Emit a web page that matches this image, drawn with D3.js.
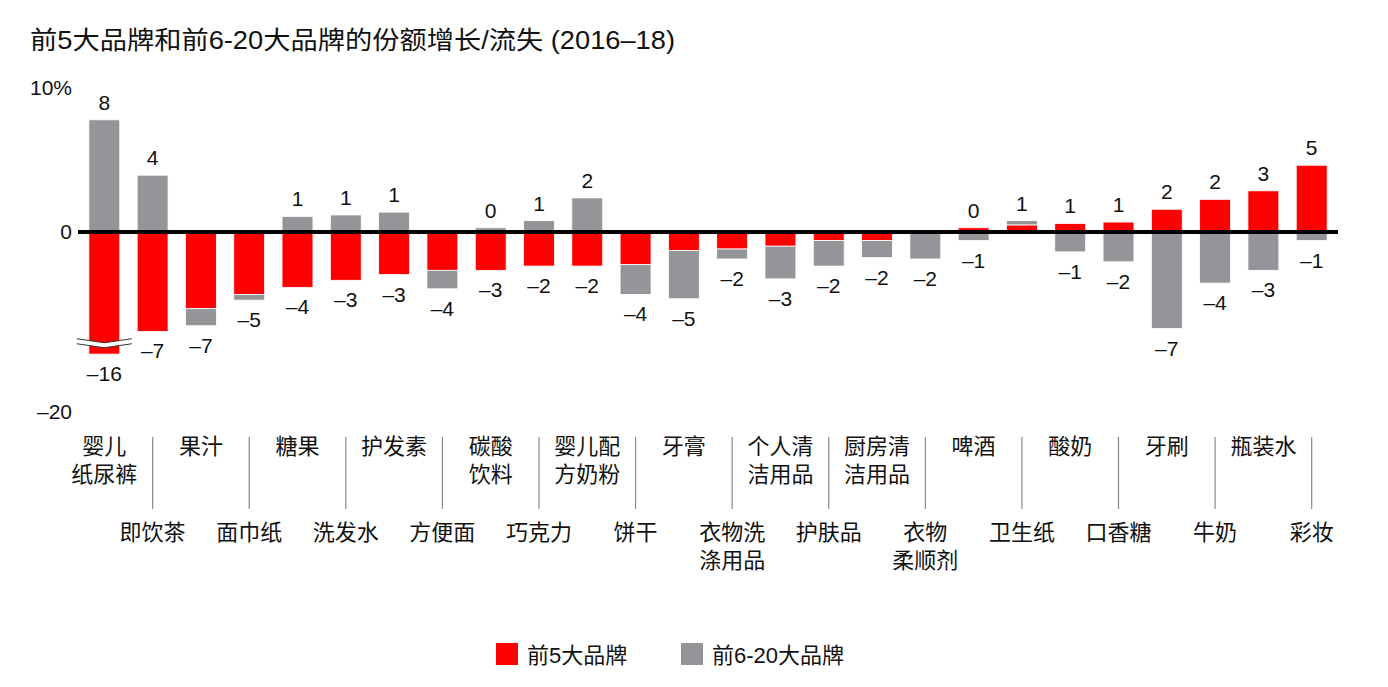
<!DOCTYPE html>
<html lang="zh">
<head>
  <meta charset="UTF-8">
  <title>前5大品牌和前6-20大品牌的份额增长/流失</title>
  <script src="https://d3js.org/d3.v7.min.js"></script>
  <style>
    body {
      margin: 0;
      background: #fff;
      font-family: "Liberation Sans", Arial, "Noto Sans CJK SC", sans-serif;
    }
    svg {
      display: block;
    }
    .cat-label {
      font-size: 22px;
      fill: #111;
    }
    .val-label {
      font-size: 21px;
      fill: #111;
    }
  </style>
</head>
<body>

<div id="chart"></div>

<script>
  // categories, in chart order ("\n" = line break in the label)
  const categories = [
    "婴儿\n纸尿裤", "即饮茶", "果汁", "面巾纸", "糖果", "洗发水", "护发素", "方便面",
    "碳酸\n饮料", "巧克力", "婴儿配\n方奶粉", "饼干", "牙膏", "衣物洗\n涤用品",
    "个人清\n洁用品", "护肤品", "厨房清\n洁用品", "衣物\n柔顺剂", "啤酒", "卫生纸",
    "酸奶", "口香糖", "牙刷", "牛奶", "瓶装水", "彩妆"
  ];

  // share gain / loss, percentage points (2016-18)
  const top5Values = [
    -16, -7.0, -5.4, -4.4, -3.9, -3.4, -3.0, -2.7, -2.7, -2.4, -2.4, -2.3, -1.3,
    -1.2, -1.0, -0.6, -0.6, 0, 0.3, 0.5, 0.6, 0.7, 1.6, 2.3, 2.9, 4.7
  ];
  const top6to20Values = [
    7.9, 4.0, -1.2, -0.4, 1.1, 1.2, 1.4, -1.3, 0.3, 0.8, 2.4, -2.1, -3.4,
    -0.7, -2.3, -1.8, -1.2, -1.9, -0.6, 0.3, -1.4, -2.1, -6.8, -3.6, -2.7, -0.6
  ];

  const seriesNames = ["前5大品牌", "前6-20大品牌"];
  const yTickValues = [10, 0, -20];
  const yTickLabels = ["10%", "0", "\u201320"];

  const colors = {top5: "#ff0000", mid: "#939598"};

  const width = 1388, height = 687;

  const svg = d3.select("#chart")
                .append("svg")
                .attr("width", width)
                .attr("height", height);

  // title
  svg.append("text")
     .attr("x", 30)
     .attr("y", 49)
     .attr("font-size", 25)
     .attr("fill", "#111")
     .attr("textLength", 645)
     .attr("lengthAdjust", "spacingAndGlyphs")
     .text("前5大品牌和前6-20大品牌的份额增长/流失 (2016\u201318)");

  const rows = categories.map((c, i) => ({cat: c, i: i, top5: top5Values[i], mid: top6to20Values[i]}));

  // x: one band per category
  const x = d3.scaleBand()
              .domain(d3.range(categories.length))
              .range([78, 1338])
              .paddingInner(0.36)
              .paddingOuter(0.225);

  // y: broken axis, -8.4 .. -16 squeezed together
  const k = 14.2, y0 = 232;
  const y = d3.scaleLinear()
              .domain([-20, -16, -8.4, 10])
              .range([y0 + 12.65 * k, y0 + 8.6 * k, y0 + 8.4 * k, y0 - 10 * k]);

  // stack: red next to the zero line, grey beyond it
  const stack = d3.stack()
                  .keys(["top5", "mid"])
                  .offset(d3.stackOffsetDiverging);
  const series = stack(rows);

  svg.append("g")
     .selectAll("g")
     .data(series)
     .join("g")
     .attr("fill", d => colors[d.key])
     .selectAll("rect")
     .data(d => d.filter(p => p[1] !== p[0]))
     .join("rect")
     .attr("x", d => x(d.data.i))
     .attr("width", x.bandwidth())
     .attr("y", d => y(Math.max(d[0], d[1])))
     .attr("height", d => Math.abs(y(d[0]) - y(d[1])))
     .attr("stroke", "#fff")
     .attr("stroke-width", 0.8);

  // axis break on the first bar
  const bx0 = x(0) - 12, bx1 = x(0) + x.bandwidth() + 12, bxm = x(0) + x.bandwidth() / 2;
  const by = y(-7.8);
  const zig = (off) => [[bx0, by - 4 + off], [bxm, by + off], [bx1, by - 4 + off]];
  svg.append("path")
     .attr("d", d3.line()(zig(0).concat(zig(5).reverse())) + "Z")
     .attr("fill", "#fff");
  [0, 5].forEach(off => {
    svg.append("path")
       .attr("d", d3.line()(zig(off)))
       .attr("fill", "none")
       .attr("stroke", "#333")
       .attr("stroke-width", 1);
  });

  // zero line
  svg.append("line")
     .attr("x1", 78).attr("x2", 1338)
     .attr("y1", y(0)).attr("y2", y(0))
     .attr("stroke", "#000")
     .attr("stroke-width", 4);

  // y tick labels
  const yAxis = d3.axisLeft(y)
                  .tickValues(yTickValues)
                  .tickFormat((d, i) => yTickLabels[i])
                  .tickSize(0)
                  .tickPadding(4);
  svg.append("g")
     .attr("transform", "translate(76,0)")
     .call(yAxis)
     .call(g => g.select(".domain").remove())
     .selectAll("text")
     .attr("font-size", 21)
     .attr("font-family", "'Liberation Sans', Arial, sans-serif")
     .attr("fill", "#111")
     .attr("dy", d => d === 10 ? "0.2em" : "0.32em");

  // value labels: rounded totals above / below
  const fmt = v => String(Math.round(v)).replace("-", "\u2013");
  rows.forEach(r => {
    const vals = [r.top5, r.mid];
    const pos = d3.sum(vals.filter(v => v > 0));
    const neg = d3.sum(vals.filter(v => v < 0));
    const cx = x(r.i) + x.bandwidth() / 2;
    if (vals.some(v => v > 0)) {
      svg.append("text").attr("class", "val-label")
         .attr("x", cx).attr("y", y(pos) - 10)
         .attr("text-anchor", "middle")
         .text(fmt(pos));
    }
    if (vals.some(v => v < 0)) {
      svg.append("text").attr("class", "val-label")
         .attr("x", cx).attr("y", y(neg) + 27)
         .attr("text-anchor", "middle")
         .text(fmt(neg));
    }
  });

  // category labels, alternating rows, with separator lines
  rows.forEach(r => {
    const cx = x(r.i) + x.bandwidth() / 2;
    const lines = r.cat.split("\n");
    const top = r.i % 2 === 0;
    const startY = top ? 446 : 532;
    if (!top) {
      svg.append("line")
         .attr("x1", cx).attr("x2", cx)
         .attr("y1", 437).attr("y2", 509)
         .attr("stroke", "#8a8a8a")
         .attr("stroke-width", 1.2);
    }
    const t = svg.append("text").attr("class", "cat-label")
                 .attr("text-anchor", "middle")
                 .attr("dominant-baseline", "central");
    lines.forEach((ln, j) => {
      t.append("tspan")
       .attr("x", cx)
       .attr("y", startY + j * 28)
       .text(ln);
    });
  });

  // legend
  const legendX = [496, 681];
  const legend = svg.append("g")
                    .selectAll("g")
                    .data(seriesNames)
                    .join("g")
                    .attr("transform", (d, i) => `translate(${legendX[i]},643)`);
  legend.append("rect")
        .attr("width", 22)
        .attr("height", 22)
        .attr("fill", (d, i) => i === 0 ? colors.top5 : colors.mid);
  legend.append("text")
        .attr("x", 31)
        .attr("y", 12)
        .attr("dominant-baseline", "central")
        .attr("font-size", 22)
        .attr("fill", "#111")
        .text(d => d);
</script>

</body>
</html>
